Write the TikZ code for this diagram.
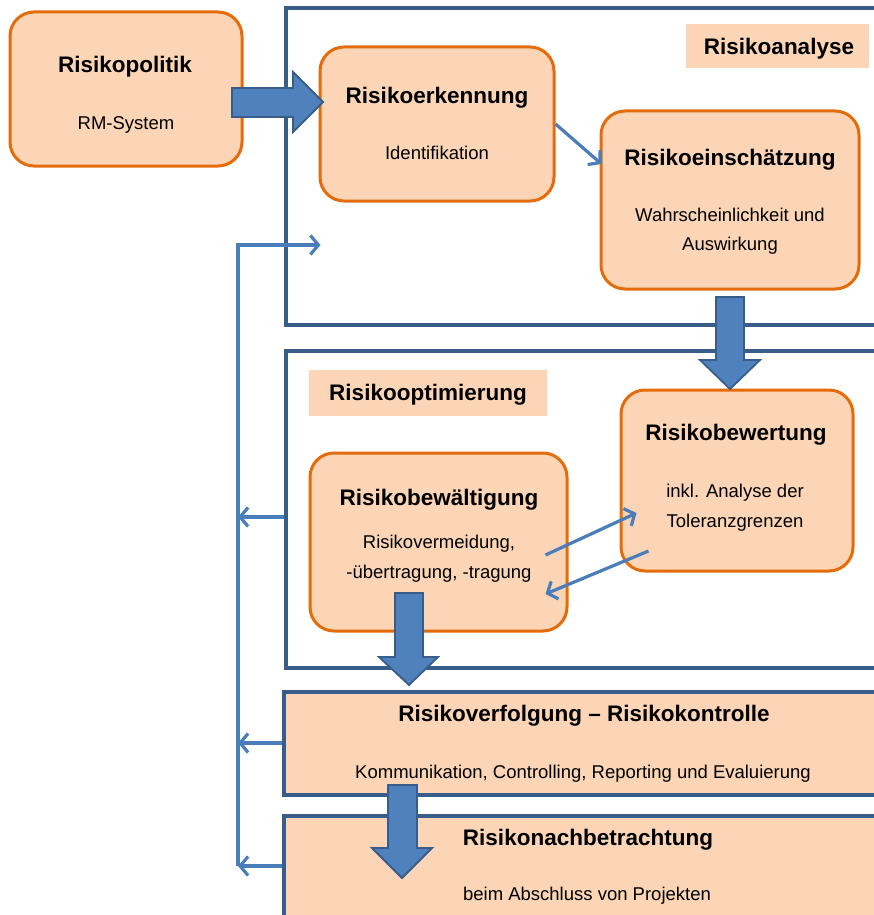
\documentclass[tikz,border=0pt]{standalone}
\usepackage{fontspec}
\setmainfont{Liberation Sans}
\usetikzlibrary{arrows.meta}

\definecolor{boxfill}{HTML}{FBD5B5}
\definecolor{boxline}{HTML}{E46C0A}
\definecolor{frameblue}{HTML}{385D8A}
\definecolor{arrowblue}{HTML}{4F81BD}
\definecolor{linkblue}{HTML}{4A7EBB}

\tikzset{
  stagebox/.style={draw=boxline, fill=boxfill, line width=3pt, rounded corners=24pt, inner sep=0pt},
  phaseframe/.style={draw=frameblue, line width=3.2pt, inner sep=0pt},
  bandbox/.style={draw=frameblue, fill=boxfill, line width=3.2pt, inner sep=0pt},
  tagbox/.style={fill=boxfill, inner sep=0pt},
  title/.style={font=\fontsize{22.5}{26}\selectfont\bfseries, anchor=base, inner sep=0pt},
  body/.style={font=\fontsize{18.5}{22}\selectfont, anchor=base, inner sep=0pt},
  bigarrow/.style={fill=arrowblue, draw=frameblue, line width=1.8pt, line join=miter},
  link/.style={draw=linkblue, line width=3.2pt, -{Straight Barb[length=8pt,width=19pt]}},
}

\begin{document}
\begin{tikzpicture}[x=1pt, y=-1pt]
  \useasboundingbox (0,0) rectangle (874,915);
  \clip (0,0) rectangle (874,915);

  % phase frames (open to the right)
  \node[phaseframe, minimum width=604pt, minimum height=317pt] (analyse) at (588,166.5) {};
  \node[phaseframe, minimum width=604pt, minimum height=317pt] (optim) at (588,509.5) {};

  % phase tags
  \node[tagbox, minimum width=183pt, minimum height=44pt] (tagA) at (777.5,46) {};
  \node[title] at (779,55) {Risikoanalyse};
  \node[tagbox, minimum width=238pt, minimum height=46pt] (tagO) at (428,393) {};
  \node[title] at (428,400) {Risikooptimierung};

  % feedback loop
  \coordinate (fbtop) at (238,245);
  \coordinate (fbopt) at (238,517);
  \coordinate (fbverf) at (238,743);
  \coordinate (fbbot) at (238,866);

  % bands at the bottom
  \node[bandbox, minimum width=606pt, minimum height=103pt] (verf) at (587,743.5) {};
  \node[bandbox, minimum width=606pt, minimum height=114pt] (nach) at (587,873) {};

  % process steps
  \node[stagebox, minimum width=232pt, minimum height=154pt] (politik) at (126,89) {};
  \node[stagebox, minimum width=234pt, minimum height=154pt] (erk) at (437,124) {};
  \node[stagebox, minimum width=258pt, minimum height=178pt] (einsch) at (730,200) {};
  \node[stagebox, minimum width=232pt, minimum height=181pt] (bewert) at (737,480.5) {};
  \node[stagebox, minimum width=257pt, minimum height=178pt] (bewael) at (438.5,542) {};

  % texts
  \node[title] at (125,73) {Risikopolitik};
  \node[body]  at (126,129) {RM-System};
  \node[title] at (437,104) {Risikoerkennung};
  \node[body]  at (437,159) {Identifikation};
  \node[title] at (730,165) {Risikoeinschätzung};
  \node[body]  at (730,221) {Wahrscheinlichkeit und};
  \node[body]  at (730,250) {Auswirkung};
  \node[title] at (736,440) {Risikobewertung};
  \node[body]  at (735,497) {inkl. Analyse der};
  \node[body]  at (735,527) {Toleranzgrenzen};
  \node[title] at (439,505) {Risikobewältigung};
  \node[body]  at (439,548) {Risikovermeidung,};
  \node[body]  at (439,578) {-übertragung, -tragung};
  \node[title] at (584,721) {Risikoverfolgung – Risikokontrolle};
  \node[body]  at (583,778) {Kommunikation, Controlling, Reporting und Evaluierung};
  \node[title] at (588,845) {Risikonachbetrachtung};
  \node[body]  at (587,900) {beim Abschluss von Projekten};

  % thin connectors
  \draw[link] (erk.east) -- ([xshift=2pt, yshift=36pt]einsch.west);
  \draw[link] ([xshift=-23pt, yshift=-13pt]bewael.east) -- ([xshift=17pt, yshift=-32.5pt]bewert.west);
  \draw[link] ([xshift=29pt, yshift=-70.5pt]bewert.west) -- ([xshift=-23pt, yshift=-52pt]bewael.east);

  \draw[link] (fbbot) -- (fbtop) -- ([xshift=2pt]erk.west |- fbtop);
  \draw[link] (optim.west |- fbopt) -- (fbopt);
  \draw[link] (verf.west |- fbverf) -- (fbverf);
  \draw[link] (nach.west |- fbbot) -- (fbbot);

  % block arrows between the steps
  \draw[bigarrow] (232,88) -- (293,88) -- (293,72) -- (323,102) -- (293,132) -- (293,117) -- (232,117) -- cycle;
  \draw[bigarrow] (716,297) -- (716,360) -- (700,360) -- (730,389) -- (760,360) -- (744,360) -- (744,297) -- cycle;
  \draw[bigarrow] (395,593) -- (395,657) -- (379,657) -- (409,685) -- (438,657) -- (423,657) -- (423,593) -- cycle;
  \draw[bigarrow] (388,785) -- (388,848) -- (372,848) -- (402,878) -- (432,848) -- (417,848) -- (417,785) -- cycle;
\end{tikzpicture}
\end{document}
